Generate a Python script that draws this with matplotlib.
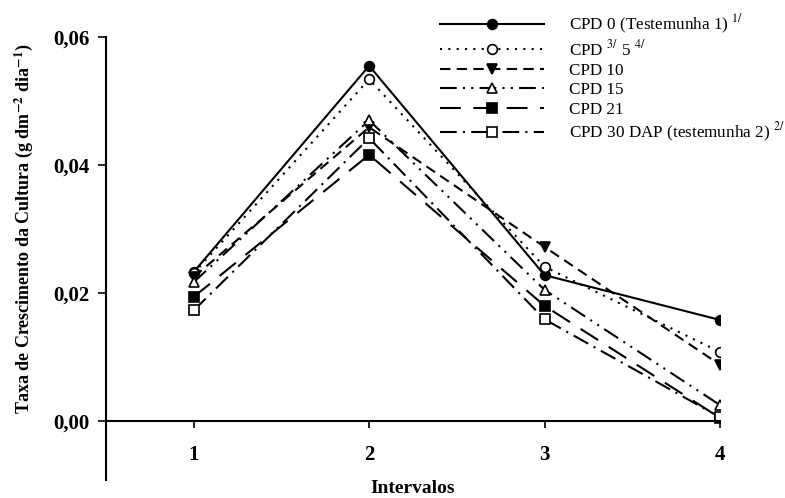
import matplotlib
matplotlib.use("Agg")
import matplotlib.pyplot as plt
from matplotlib.ticker import FuncFormatter

plt.rcParams['font.family'] = ['Liberation Serif', 'DejaVu Serif']
plt.rcParams['mathtext.fontset'] = 'stix'

intervals = [1, 2, 3, 4]
cpd0 = [0.0233, 0.0555, 0.0228, 0.0158]
cpd5 = [0.0231, 0.0534, 0.0241, 0.0108]
cpd10 = [0.0225, 0.0459, 0.0272, 0.0088]
cpd15 = [0.0217, 0.0470, 0.0205, 0.0025]
cpd21 = [0.0194, 0.0416, 0.0180, 0.0005]
cpd30 = [0.0173, 0.0442, 0.0159, 0.0006]

labels = [
    'CPD 0 (Testemunha 1) $^{1/}$',
    'CPD $^{3/}$ 5 $^{4/}$',
    'CPD 10',
    'CPD 15',
    'CPD 21',
    'CPD 30 DAP (testemunha 2) $^{2/}$',
]
yticks = [0.00, 0.02, 0.04, 0.06]
xticks = [1, 2, 3, 4]

fig = plt.figure(figsize=(7.85, 4.98), dpi=100)
ax = fig.add_axes([106/785, 1-480/498, (720-106)/785, (480-37)/498])

styles = [
    dict(ls='-', marker='o', mfc='black'),
    dict(ls=(0, (1, 3)), marker='o', mfc='white'),
    dict(ls=(0, (5, 3)), marker='v', mfc='black'),
    dict(ls=(0, (8, 3, 1, 3, 1, 3)), marker='^', mfc='white'),
    dict(ls=(0, (10, 6)), marker='s', mfc='black'),
    dict(ls=(0, (8, 3, 1, 3)), marker='s', mfc='white'),
]
series = [cpd0, cpd5, cpd10, cpd15, cpd21, cpd30]
handles = []
for s, st, lab in zip(series, styles, labels):
    h, = ax.plot(intervals, s, color='black', lw=1.5, linestyle=st['ls'],
                 marker=st['marker'], markerfacecolor=st['mfc'],
                 markeredgecolor='black', markersize=7, markeredgewidth=1.2,
                 label=lab)
    handles.append(h)

ax.set_xlim(0.5, 4.0)
ax.set_ylim(-0.0092, 0.06)
ax.spines['top'].set_visible(False)
ax.spines['right'].set_visible(False)
ax.spines['bottom'].set_position(('data', 0))
ax.spines['bottom'].set_bounds(0.5, 4.0)
ax.spines['left'].set_linewidth(1.5)
ax.spines['bottom'].set_linewidth(1.5)

ax.set_yticks(yticks)
ax.yaxis.set_major_formatter(FuncFormatter(lambda v, p: f"{v:.2f}".replace('.', ',')))
ax.set_xticks(xticks)
ax.tick_params(axis='y', direction='out', length=6, width=1.2, labelsize=15, pad=6)
ax.tick_params(axis='x', direction='out', length=5, width=1.2, labelsize=15, pad=12)
for t in ax.get_xticklabels() + ax.get_yticklabels():
    t.set_fontweight('bold')

ax.set_ylabel('Taxa de Crescimento da Cultura (g dm$^{\\mathbf{-2}}$ dia$^{\\mathbf{-1}}$)',
              fontsize=13, fontweight='bold')
ax.yaxis.set_label_coords(-0.115, 0.567)
fig.text(413/785, 1-488/498, 'Intervalos', fontsize=14, fontweight='bold',
         ha='center', va='center')

leg = fig.legend(handles=handles, loc='upper left', bbox_to_anchor=(433/785, 1-6/498),
                 frameon=False, fontsize=12.3, handlelength=6.1, handletextpad=1.45,
                 labelspacing=0.2, borderaxespad=0)

fig.savefig('out.png', dpi=100)
